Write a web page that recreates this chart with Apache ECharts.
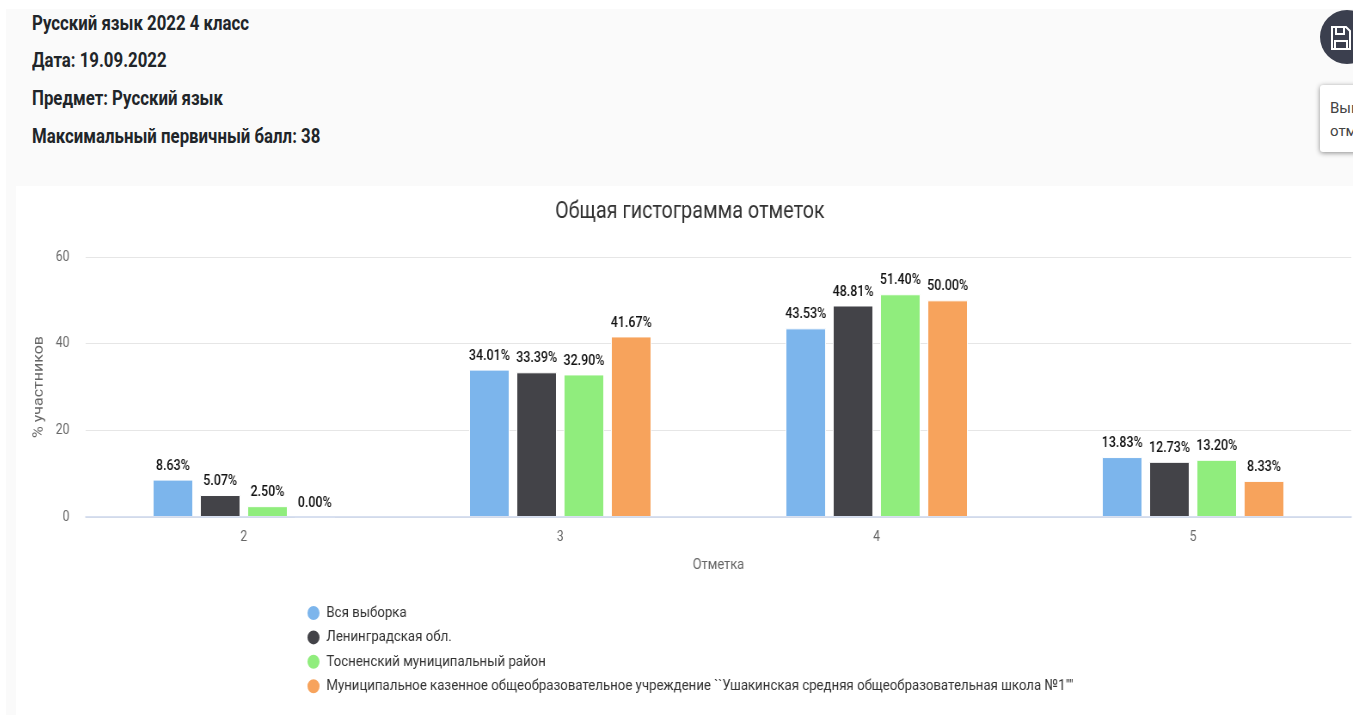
<!DOCTYPE html>
<html><head><meta charset="utf-8">
<style>
html,body{margin:0;padding:0;width:1353px;height:715px;overflow:hidden;background:#fff;font-family:Roboto,sans-serif}
#page{position:absolute;left:6px;top:9px;width:1347px;height:706px;background:#fafafa}
#panel{position:absolute;left:16px;top:186px;width:1337px;height:529px;background:#fff;overflow:hidden}
#chart{position:absolute;left:0;top:0;width:1555px;height:529px;transform-origin:0 0;transform:scaleX(.8598)}
.h{position:absolute;left:32px;font-weight:700;font-size:20px;color:#212529;white-space:nowrap;transform-origin:0 50%;transform:scaleX(.84);line-height:24px}
#btn{position:absolute;left:1320px;top:10px;width:54px;height:54px;border-radius:50%;background:#3b3f4e}
#btn svg{position:absolute;left:11px;top:16px}
#tip{position:absolute;left:1320px;top:85px;width:120px;height:67px;background:#fff;border-radius:3px;box-shadow:0 1px 5px rgba(0,0,0,.45);font-size:15px;line-height:23px;color:#444;padding:12px 0 0 10px;box-sizing:border-box;white-space:nowrap}
</style></head><body>
<div id="page"></div>
<div class="h" style="top:11px">Русский язык 2022 4 класс</div>
<div class="h" style="top:48px">Дата: 19.09.2022</div>
<div class="h" style="top:86px">Предмет: Русский язык</div>
<div class="h" style="top:124px">Максимальный первичный балл: 38</div>
<div id="btn"><svg width="20" height="24" viewBox="0 0 20 24" fill="none" stroke="#fff" stroke-width="2"><path d="M1 1h14l4 4v18H1z"/><path d="M5 1v7h8V1M4 23v-8h12v8"/></svg></div>
<div id="tip">Выгрузить<br>отметки</div>
<div id="panel"><div id="chart"></div></div>
<script src="https://cdn.jsdelivr.net/npm/echarts@6/dist/echarts.min.js"></script>
<script>
const categories = ['2','3','4','5'];
const seriesNames = ['Вся выборка','Ленинградская обл.','Тосненский муниципальный район','Муниципальное казенное общеобразовательное учреждение ``Ушакинская средняя общеобразовательная школа №1""'];
const allSample = [8.63,34.01,43.53,13.83];
const leningrad = [5.07,33.39,48.81,12.73];
const tosno = [2.50,32.90,51.40,13.20];
const school = [0.00,41.67,50.00,8.33];
const colors = ['#7cb5ec','#434348','#90ed7d','#f7a35c'];
const font = 'Roboto,sans-serif';
const values = [allSample,leningrad,tosno,school];
const chart = echarts.init(document.getElementById('chart'));
chart.setOption({
  animation:false,
  title:{text:'Общая гистограмма отметок',left:627,top:15,padding:0,
    textStyle:{fontFamily:font,fontSize:23,fontWeight:'normal',color:'#333'}},
  legend:{orient:'vertical',left:337,top:418,padding:0,itemWidth:16,itemHeight:16,itemGap:6.4,icon:'circle',
    data:seriesNames,textStyle:{fontFamily:font,fontSize:15.4,color:'#333',padding:[0,0,0,2]}},
  grid:{left:81,right:2,top:71,bottom:198,containLabel:false},
  xAxis:{type:'category',z:3,data:categories,name:'Отметка',nameLocation:'middle',nameGap:41,
    nameTextStyle:{fontFamily:font,fontSize:15,color:'#666'},
    axisLine:{lineStyle:{color:'#ccd6eb',width:1.5}},axisTick:{show:false},
    axisLabel:{fontFamily:font,fontSize:14,color:'#666',margin:13}},
  yAxis:{type:'value',min:0,max:60,interval:20,name:'% участников',nameLocation:'middle',nameGap:45,
    nameTextStyle:{fontFamily:font,fontSize:16,color:'#666'},
    axisLine:{show:false},axisTick:{show:false},
    splitLine:{lineStyle:{color:'#e6e6e6'}},
    axisLabel:{fontFamily:font,fontSize:14,color:'#666',margin:19}},
  series:seriesNames.map((n,i)=>({
    name:n,type:'bar',data:values[i],barWidth:47,barGap:'17%',
    itemStyle:{color:colors[i],borderColor:'#fff',borderWidth:1},
    label:{show:true,position:'top',distance:6,formatter:p=>p.value.toFixed(2)+'%',
      fontFamily:font,fontSize:14.5,fontWeight:500,color:'#111',
      textBorderColor:'#fff',textBorderWidth:1}
  }))
});
</script></body></html>
